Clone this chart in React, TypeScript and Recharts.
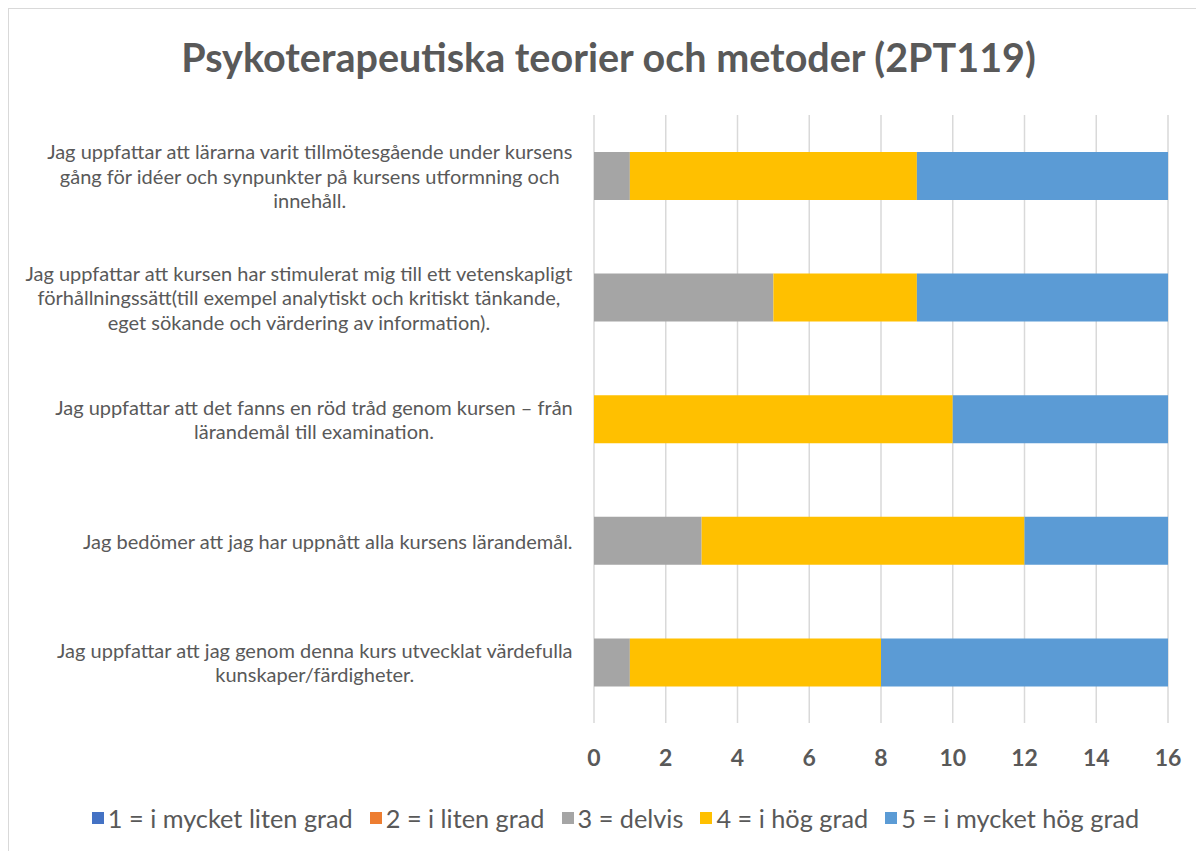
import React from "react";
import { BarChart, Bar, XAxis, YAxis, CartesianGrid } from "recharts";

const categories = [
  "Jag uppfattar att lärarna varit tillmötesgående under kursens\ngång för idéer och synpunkter på kursens utformning och\ninnehåll.",
  "Jag uppfattar att kursen har stimulerat mig till ett vetenskapligt\nförhållningssätt(till exempel analytiskt och kritiskt tänkande,\neget sökande och värdering av information).",
  "Jag uppfattar att det fanns en röd tråd genom kursen – från\nlärandemål till examination.",
  "Jag bedömer att jag har uppnått alla kursens lärandemål.",
  "Jag uppfattar att jag genom denna kurs utvecklat värdefulla\nkunskaper/färdigheter.",
];

const seriesKeys = ["g1", "g2", "g3", "g4", "g5"];
const seriesNames = [
  "1 = i mycket liten grad",
  "2 = i liten grad",
  "3 = delvis",
  "4 = i hög grad",
  "5 = i mycket hög grad",
];
const seriesColors = ["#4472C4", "#ED7D31", "#A5A5A5", "#FFC000", "#5B9BD5"];

const grade1 = [0, 0, 0, 0, 0];
const grade2 = [0, 0, 0, 0, 0];
const grade3 = [1, 5, 0, 3, 1];
const grade4 = [8, 4, 10, 9, 7];
const grade5 = [7, 7, 6, 4, 8];

const xTicks = [0, 2, 4, 6, 8, 10, 12, 14, 16];
const title = "Psykoterapeutiska teorier och metoder (2PT119)";

const data = categories.map((label, i) => ({
  label,
  g1: grade1[i],
  g2: grade2[i],
  g3: grade3[i],
  g4: grade4[i],
  g5: grade5[i],
}));

const FONT = "Lato, 'Open Sans', sans-serif";
const TEXT = "#595959";
const LABEL_SIZE = 20;
const LINE_H = 24.5;

let ctx: CanvasRenderingContext2D | null = null;
function measure(s: string): number {
  if (!ctx) {
    const c = document.createElement("canvas");
    ctx = c.getContext("2d");
  }
  if (!ctx) return s.length * 8;
  ctx.font = `${LABEL_SIZE}px ${FONT}`;
  return ctx.measureText(s).width;
}

const CategoryTick = (props: any) => {
  const { x, y, payload } = props;
  const lines = String(payload.value).split("\n");
  const w = Math.max(...lines.map(measure));
  const cx = x - w / 2;
  const startY = y - ((lines.length - 1) * LINE_H) / 2;
  return (
    <g>
      {lines.map((ln, i) => (
        <text
          key={i}
          x={cx}
          y={startY + i * LINE_H}
          textAnchor="middle"
          dominantBaseline="central"
          fill={TEXT}
          fontFamily={FONT}
          fontSize={LABEL_SIZE}
        >
          {ln}
        </text>
      ))}
    </g>
  );
};

const NumberTick = (props: any) => {
  const { x, y, payload } = props;
  return (
    <text
      x={x}
      y={y + 26}
      textAnchor="middle"
      dominantBaseline="central"
      fill={TEXT}
      fontFamily={FONT}
      fontWeight="bold"
      fontSize={23}
    >
      {payload.value}
    </text>
  );
};

export default function App() {
  return (
    <div
      style={{
        position: "relative",
        width: 1195,
        height: 842,
        borderTop: "1px solid #d9d9d9",
        borderLeft: "1px solid #d9d9d9",
        background: "#fff",
        fontFamily: FONT,
      }}
    >
      <div
        style={{
          position: "absolute",
          top: 26,
          left: 2,
          width: 1195,
          textAlign: "center",
          fontSize: 39.5,
          fontWeight: "bold",
          color: TEXT,
          lineHeight: "44px",
        }}
      >
        {title}
      </div>
      <BarChart
        width={1195}
        height={842}
        data={data}
        layout="vertical"
        margin={{ top: 106, right: 36, left: 0, bottom: 88 }}
        barSize={48}
      >
        <CartesianGrid horizontal={false} stroke="#d9d9d9" strokeWidth={1.5} />
        <XAxis
          type="number"
          domain={[0, 16]}
          ticks={xTicks}
          axisLine={false}
          tickLine={false}
          height={40}
          tick={<NumberTick />}
          interval={0}
        />
        <YAxis
          type="category"
          dataKey="label"
          width={585}
          axisLine={false}
          tickLine={false}
          tickSize={0}
          tickMargin={21}
          tick={<CategoryTick />}
          interval={0}
        />
        {seriesKeys.map((k, i) => (
          <Bar
            key={k}
            dataKey={k}
            name={seriesNames[i]}
            stackId="a"
            fill={seriesColors[i]}
            isAnimationActive={false}
          />
        ))}
      </BarChart>
      <div
        style={{
          position: "absolute",
          top: 795,
          left: 9,
          width: 1195,
          height: 28,
          display: "flex",
          justifyContent: "center",
          alignItems: "center",
          gap: 17,
          fontSize: 25.3,
          color: TEXT,
        }}
      >
        {seriesNames.map((n, i) => (
          <div key={n} style={{ display: "flex", alignItems: "center" }}>
            <span
              style={{
                display: "inline-block",
                width: 12,
                height: 12,
                background: seriesColors[i],
                marginRight: 4,
              }}
            />
            <span>{n}</span>
          </div>
        ))}
      </div>
    </div>
  );
}
